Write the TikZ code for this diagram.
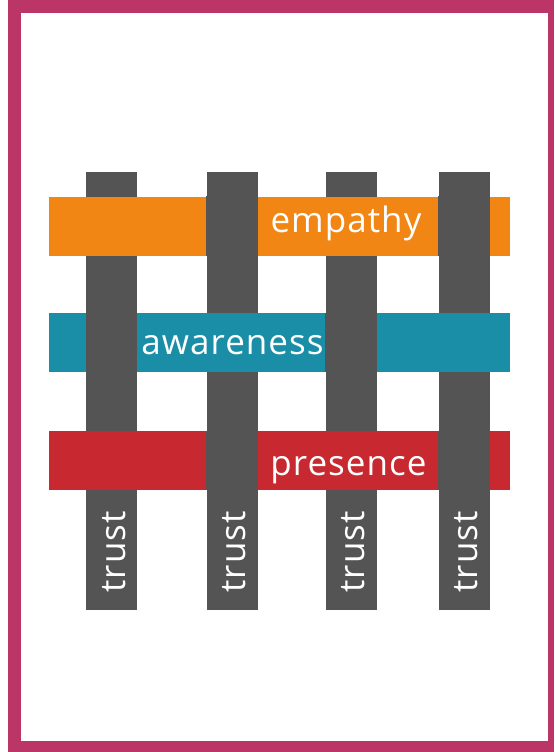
\documentclass[tikz,border=0pt]{standalone}
\usepackage{fontspec}
\setmainfont{Open Sans}
\newfontfamily\threadfont[LetterSpace=3]{Open Sans}
\usetikzlibrary{positioning}

\definecolor{framepink}{HTML}{BC3567}
\definecolor{trustgray}{HTML}{545454}
\definecolor{empathyorange}{HTML}{F28614}
\definecolor{awarenessteal}{HTML}{1A8EA6}
\definecolor{presencered}{HTML}{C8282F}

\begin{document}
\begin{tikzpicture}[x=1pt, y=-1pt,
    warp/.style={fill=trustgray, minimum width=51pt, minimum height=438pt, inner sep=0pt},
    weft/.style={minimum width=461pt, minimum height=59pt, inner sep=0pt},
    word/.style={text=white, inner sep=0pt, font=\threadfont\fontsize{35}{40}\selectfont}
  ]
    \useasboundingbox (0,0) rectangle (554,752);
    % frame
    \fill[framepink] (8,0) rectangle (554,752);
    \fill[white] (21,13) rectangle (548,741);

    % vertical threads
    \foreach \n/\x in {t1/111.5, t2/232, t3/351, t4/464}
      \node[warp] (\n) at (\x,391) {};

    % horizontal threads
    \node[weft, fill=empathyorange] (emp) at (279.5,226) {};
    \node[weft, fill=awarenessteal] (awa) at (279.5,342.5) {};
    \node[weft, fill=presencered]   (pre) at (279.5,460.5) {};

    % crossings where the vertical thread lies on top
    \foreach \v/\h in {t2/emp, t4/emp, t1/awa, t3/awa, t2/pre, t4/pre}
      \fill[trustgray] (\v.west |- \h.north) rectangle (\v.east |- \h.south);

    % labels
    \node[word, anchor=base] (emp-label) at (346,232.5) {empathy};
    \node[word, anchor=base] (awa-label) at (232.5,354) {awareness};
    \node[word, anchor=base] (pre-label) at (348.5,475) {presence};
    \foreach \n in {t1,t2,t3,t4}
      \node[word, rotate=90, anchor=base] (\n-label) at ([xshift=13.5pt]\n.center |- 0,552) {trust};
  \end{tikzpicture}
\end{document}
